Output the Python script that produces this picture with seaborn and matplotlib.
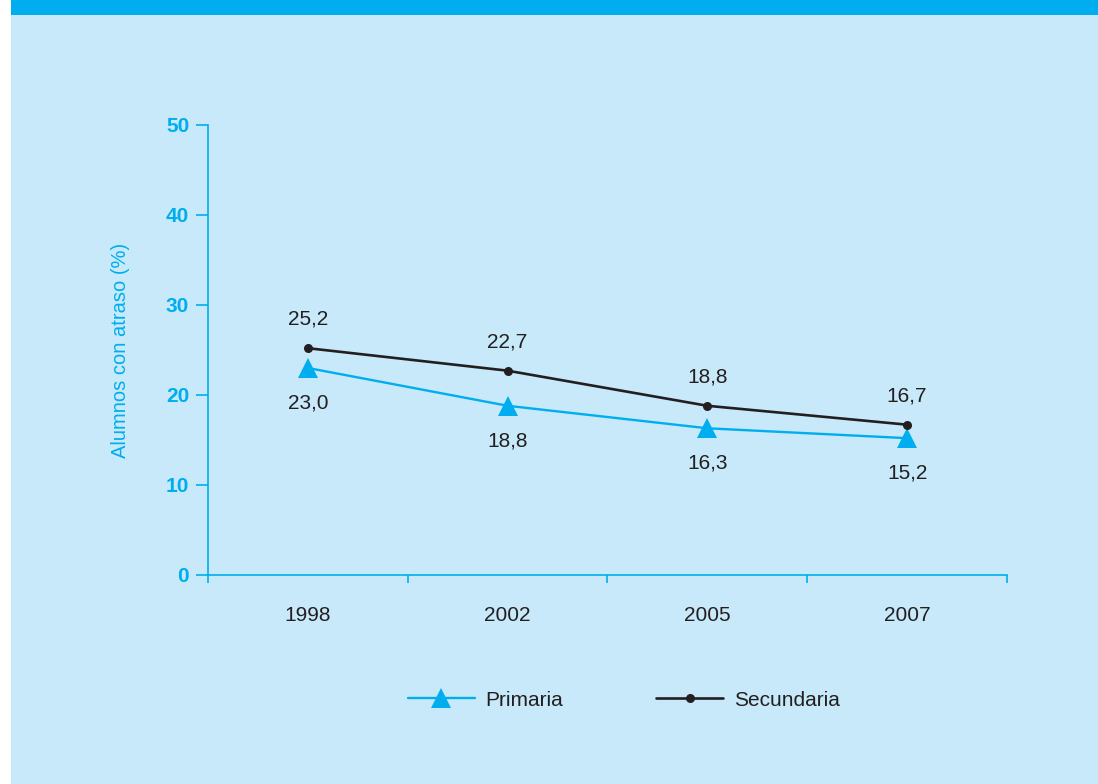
import matplotlib
matplotlib.use('Agg')
import matplotlib.pyplot as plt
import matplotlib.patches as mpatches
from matplotlib import font_manager
from matplotlib.ticker import FixedLocator
import seaborn as sns

years = ['1998', '2002', '2005', '2007']
primaria = [23.0, 18.8, 16.3, 15.2]
secundaria = [25.2, 22.7, 18.8, 16.7]
y_ticks = [0, 10, 20, 30, 40, 50]

BLUE = '#00AEEF'
LIGHT = '#C7E9F9'
DARK = '#231F20'

sns.set_theme(style='white')
plt.rcParams['font.family'] = ['Liberation Sans', 'DejaVu Sans']

# condensed face for the axis title, if present
installed = {f.name for f in font_manager.fontManager.ttflist}
if 'Liberation Sans Narrow' in installed:
    ylab_font = dict(family=['Liberation Sans Narrow'], fontweight='bold', fontsize=16)
else:
    ylab_font = dict(fontsize=14.5)

fig = plt.figure(figsize=(10.98, 7.84), dpi=100, facecolor='white')

# background panel and top band
fig.patches.append(mpatches.Rectangle((11 / 1098, 0), 1, 1, transform=fig.transFigure,
                                      facecolor=LIGHT, edgecolor='none', zorder=-10))
fig.patches.append(mpatches.Rectangle((11 / 1098, 1 - 15 / 784), 1, 15 / 784,
                                      transform=fig.transFigure,
                                      facecolor=BLUE, edgecolor='none', zorder=-9))

ax = fig.add_axes([0.1894, 0.2666, 0.7277, 0.574])
ax.set_facecolor('none')

sns.lineplot(x=years, y=primaria, ax=ax, color=BLUE, lw=1.7, marker='^',
             markersize=14.5, markeredgewidth=0, label='Primaria')
sns.lineplot(x=years, y=secundaria, ax=ax, color=DARK, lw=1.9, marker='o',
             markersize=6.5, markeredgewidth=0, label='Secundaria')

# value labels
for i, (p, s) in enumerate(zip(primaria, secundaria)):
    ax.annotate(f'{p:.1f}'.replace('.', ','), (i, p), xytext=(0, -25),
                textcoords='offset points', ha='center', va='center',
                fontsize=15, color=DARK)
    ax.annotate(f'{s:.1f}'.replace('.', ','), (i, s), xytext=(0, 21),
                textcoords='offset points', ha='center', va='center',
                fontsize=15, color=DARK)

ax.set_xlim(-0.5, len(years) - 0.5)
ax.set_ylim(0, 50)
ax.set_yticks(y_ticks)
ax.set_yticklabels([str(t) for t in y_ticks], fontweight='bold', color=BLUE, fontsize=15)
ax.tick_params(axis='y', length=8.5, width=1.2, color=BLUE, pad=5, left=True)
ax.xaxis.set_minor_locator(FixedLocator([i - 0.5 for i in range(len(years) + 1)]))
ax.tick_params(axis='x', which='major', length=0, pad=22, labelsize=15, labelcolor=DARK)
ax.tick_params(axis='x', which='minor', length=6, width=1.2, color=BLUE, bottom=True)

for side in ['top', 'right']:
    ax.spines[side].set_visible(False)
for side in ['left', 'bottom']:
    ax.spines[side].set_color(BLUE)
    ax.spines[side].set_linewidth(1.2)

ax.set_xlabel('')
ax.set_ylabel('Alumnos con atraso (%)', color=BLUE, labelpad=26, **ylab_font)

handles, labels = ax.get_legend_handles_labels()
ax.get_legend().remove()
fig.legend(handles, labels, loc='center', bbox_to_anchor=(0.568, 0.107), ncol=2,
           frameon=False, fontsize=15, handlelength=3.2, columnspacing=4.5,
           handletextpad=0.5, labelcolor=DARK)

fig.savefig('out.png', dpi=100, facecolor=fig.get_facecolor())
